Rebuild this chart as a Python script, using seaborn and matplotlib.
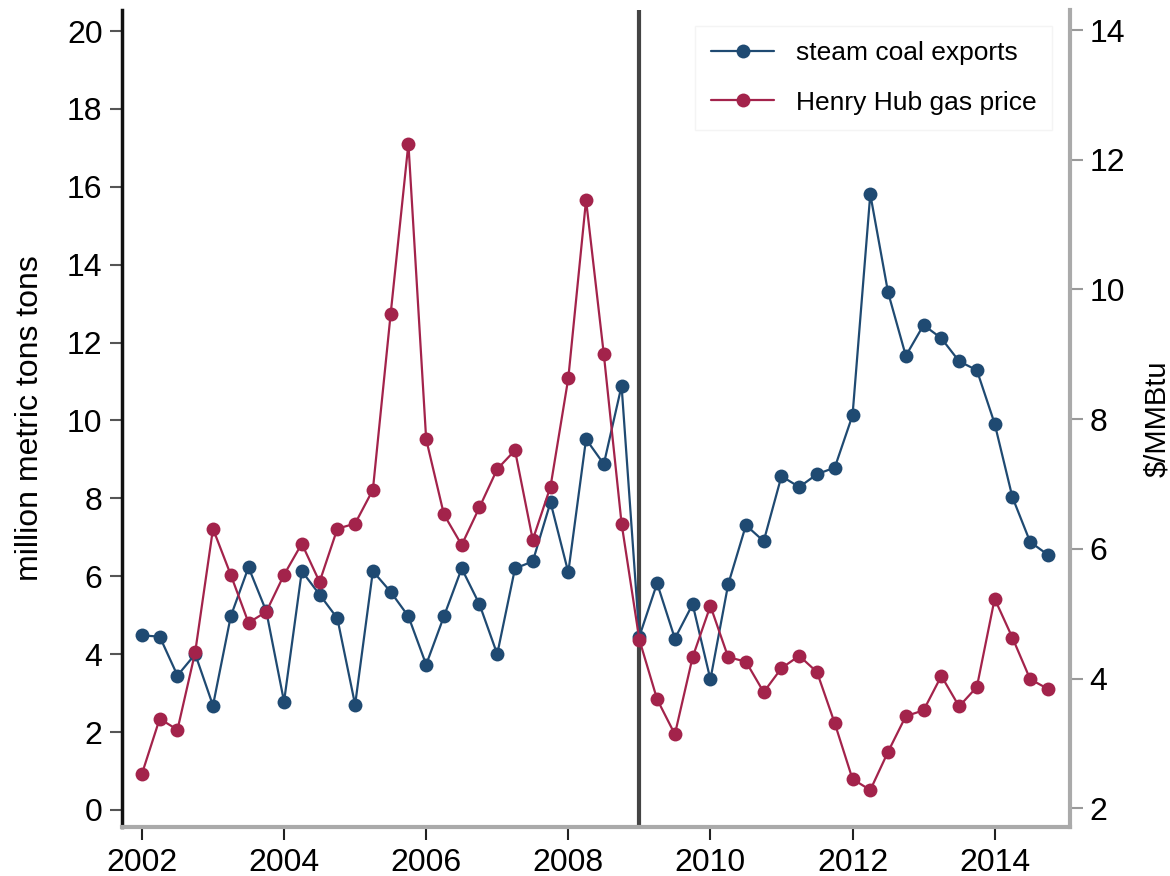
import numpy as np
import pandas as pd
import matplotlib
matplotlib.use("Agg")
import matplotlib.pyplot as plt
import seaborn as sns
from matplotlib.lines import Line2D

# Quarterly observations, 2002Q1 through 2014Q4
quarters = pd.period_range("2002Q1", "2014Q4", freq="Q")
year_frac = quarters.year + (quarters.quarter - 1) / 4.0

# Steam coal exports, million metric tons (left axis)
coal_exports = [
    4.48, 4.45, 3.45, 4.0, 2.68, 4.97, 6.23, 5.1,
    2.78, 6.13, 5.53, 4.92, 2.70, 6.13, 5.6, 4.97,
    3.73, 4.97, 6.2, 5.28, 4.0, 6.2, 6.38, 7.9,
    6.1, 9.52, 8.88, 10.89, 4.45, 5.82, 4.40, 5.28,
    3.35, 5.79, 7.31, 6.90, 8.57, 8.29, 8.62, 8.79,
    10.13, 15.81, 13.29, 11.66, 12.45, 12.11, 11.52, 11.29,
    9.92, 8.03, 6.88, 6.55,
]

# Henry Hub natural gas price, $/MMBtu (right axis)
gas_price = [
    2.53, 3.38, 3.21, 4.41, 6.31, 5.60, 4.86, 5.03,
    5.60, 6.08, 5.49, 6.31, 6.39, 6.91, 9.62, 12.25,
    7.69, 6.53, 6.06, 6.64, 7.23, 7.52, 6.14, 6.96,
    8.63, 11.38, 9.00, 6.39, 4.60, 3.68, 3.14, 4.33,
    5.12, 4.33, 4.26, 3.79, 4.16, 4.35, 4.10, 3.31,
    2.45, 2.28, 2.87, 3.42, 3.51, 4.04, 3.57, 3.87,
    5.23, 4.63, 3.99, 3.84,
]

x_ticks = [2002, 2004, 2006, 2008, 2010, 2012, 2014]
left_ticks = [0, 2, 4, 6, 8, 10, 12, 14, 16, 18, 20]
right_ticks = [2, 4, 6, 8, 10, 12, 14]
break_year = 2009

df = pd.DataFrame({"year": year_frac, "coal": coal_exports, "gas": gas_price})

sns.set_style("white")
plt.rcParams["font.family"] = ["Liberation Sans", "DejaVu Sans"]
plt.rcParams["text.color"] = "black"
plt.rcParams["axes.labelcolor"] = "black"
plt.rcParams["xtick.color"] = "black"
plt.rcParams["ytick.color"] = "black"

BLUE = "#1f4a72"
RED = "#a3234b"

fig = plt.figure(figsize=(11.7, 8.76), dpi=100)
ax = fig.add_axes([0.1043, 0.0559, 0.8102, 0.9327])
ax2 = ax.twinx()

sns.lineplot(data=df, x="year", y="coal", ax=ax, color=BLUE, marker="o",
             markersize=10, markeredgewidth=0, linewidth=1.6, zorder=3)
sns.lineplot(data=df, x="year", y="gas", ax=ax2, color=RED, marker="o",
             markersize=10, markeredgewidth=0, linewidth=1.6, zorder=3)

ax.axvline(break_year, color="#444444", linewidth=3, zorder=2)

ax.set_xlim(2001.72, 2015.06)
ax.set_ylim(-0.44, 20.54)
ax2.set_ylim(1.71, 14.31)

ax.set_xticks(x_ticks)
ax.set_yticks(left_ticks)
ax2.set_yticks(right_ticks)
ax.set_xticklabels([str(t) for t in x_ticks])
ax.set_yticklabels([str(t) for t in left_ticks])
ax2.set_yticklabels([str(t) for t in right_ticks])

ax.set_xlabel("")
ax.set_ylabel("million metric tons tons", fontsize=23, labelpad=16)
ax2.set_ylabel("$/MMBtu", fontsize=21, labelpad=13)

ax.tick_params(axis="x", direction="out", length=9, width=1.5, color="#222222",
               labelsize=23, pad=6, bottom=True, labelcolor="black")
ax.tick_params(axis="y", direction="out", length=9, width=1.5, color="#555555",
               labelsize=23, pad=5, left=True, labelcolor="black")
ax2.tick_params(axis="y", direction="out", length=9, width=1.5, color="#999999",
                labelsize=23, pad=5, right=True, labelcolor="black")

for a in (ax, ax2):
    a.spines["top"].set_visible(False)
ax.spines["left"].set_color("#111111")
ax.spines["left"].set_linewidth(2.5)
ax.spines["bottom"].set_color("#aaaaaa")
ax.spines["bottom"].set_linewidth(3)
ax.spines["right"].set_visible(False)
ax2.spines["left"].set_visible(False)
ax2.spines["bottom"].set_visible(False)
ax2.spines["right"].set_color("#aaaaaa")
ax2.spines["right"].set_linewidth(3)

handles = [
    Line2D([0], [0], color=BLUE, marker="o", markersize=10, markeredgewidth=0, linewidth=1.6),
    Line2D([0], [0], color=RED, marker="o", markersize=10, markeredgewidth=0, linewidth=1.6),
]
leg = ax2.legend(handles, ["steam coal exports", "Henry Hub gas price"],
                 loc="upper right", bbox_to_anchor=(0.995, 0.997), fontsize=19,
                 frameon=True, fancybox=False, edgecolor="#f2f2f2",
                 handlelength=2.4, borderpad=0.6, labelspacing=0.95)
leg.get_frame().set_linewidth(1)

fig.savefig("out.png", dpi=100)
